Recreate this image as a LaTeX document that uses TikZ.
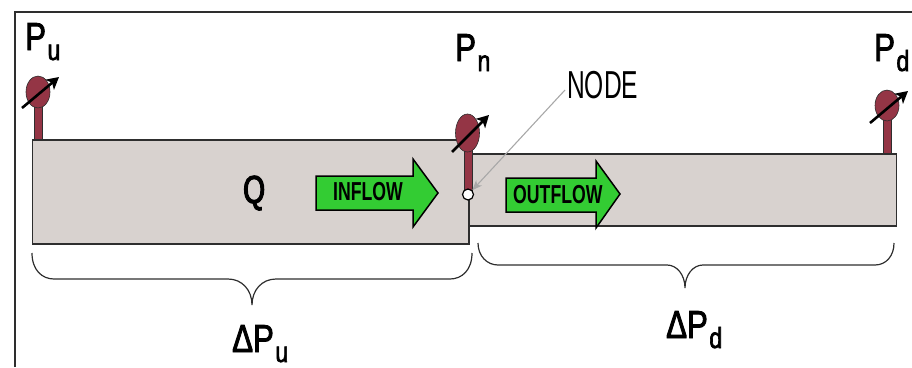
\documentclass[tikz,border=0pt]{standalone}
\usepackage{fontspec}
\setmainfont{Liberation Sans}
\newfontfamily\lblfont[FakeStretch=0.8,FakeBold=2.2]{Liberation Sans}
\newfontfamily\qfont[FakeStretch=0.72,FakeBold=3]{Liberation Sans}
\newfontfamily\nodefont[FakeStretch=0.63]{Liberation Sans}
\newfontfamily\flowfont[FakeStretch=0.68]{Liberation Sans Bold}
\usetikzlibrary{arrows.meta,shapes.geometric}
\definecolor{pipefill}{HTML}{D8D2CF}
\definecolor{pipeline}{HTML}{2E2E2E}
\definecolor{gaugered}{HTML}{943545}
\definecolor{flowgreen}{HTML}{33CC33}
\definecolor{leader}{HTML}{A8A8A8}
\newcommand{\plabel}[2]{{\lblfont\fontsize{39}{39}\selectfont #1\kern1.5pt\raisebox{-10pt}{\fontsize{29}{29}\selectfont #2}}}
\tikzset{
  x=1pt,y=-1pt,
  pipe/.style={draw=pipeline,line width=1.5pt,fill=pipefill},
  stem/.style={draw=pipeline,line width=0.5pt,fill=gaugered},
  dial/.style={draw=pipeline,line width=0.6pt,fill=gaugered,ellipse,minimum width=24pt,inner sep=0pt},
  needle/.style={black,line width=2.6pt,-{Stealth[length=12pt,width=13pt,inset=3pt]}},
  flowarrow/.style={draw=black,line width=1.5pt,fill=flowgreen,line join=miter},
  flowtext/.style={inner sep=0pt,font=\flowfont\fontsize{26}{26}\selectfont,anchor=base west},
  plbl/.style={inner sep=0pt,anchor=base west},
  brace/.style={draw=pipeline,line width=1.2pt},
}
\begin{document}
\begin{tikzpicture}
\useasboundingbox (0,0) rectangle (912,367);
\draw[pipeline,line width=2pt] (14.5,367) -- (14.5,11.5) -- (912,11.5);
% pipes
\node[pipe,minimum width=437pt,minimum height=104pt,inner sep=0pt,anchor=north west] (upipe) at (31.5,139) {};
\node[pipe,minimum width=427pt,minimum height=72pt,inner sep=0pt,anchor=north west] (dpipe) at (468.5,153) {};
\draw[pipeline,line width=1.8pt] (468.5,139) -- (468.5,243);
% flow arrows
\draw[flowarrow] (316,176) -- (413,176) -- (413,159) -- (438,193) -- (413,227) -- (413,210) -- (316,210) -- cycle;
\draw[flowarrow] (506,178) -- (596,178) -- (596,161) -- (620,194) -- (596,228) -- (596,212) -- (506,212) -- cycle;
\node[flowtext] (inflow) at (333,200) {INFLOW};
\node[flowtext] (outflow) at (513,203) {OUTFLOW};
\node[plbl,font=\qfont\fontsize{39}{39}\selectfont] (q) at (243,203) {Q};
% gauges
\draw[stem] (34.5,106) rectangle (42,139);
\node[dial,minimum height=32pt] (gu) at (38,92) {};
\coordinate (gua) at (22,108); \coordinate (gub) at (59,77);
\draw[needle] (gua) -- (gub);
\draw[stem] (464,150) rectangle (472,190);
\node[dial,minimum height=38pt] (gn) at (467.5,133) {};
\coordinate (gna) at (452,152); \coordinate (gnb) at (489,115);
\draw[needle] (gna) -- (gnb);
\draw[stem] (883,119) rectangle (891,153);
\node[dial,minimum height=31pt] (gd) at (887,105.5) {};
\coordinate (gda) at (870,123); \coordinate (gdb) at (908,91);
\draw[needle] (gda) -- (gdb);
% node point and leader
\node[circle,draw=black,line width=1.2pt,fill=white,minimum size=11pt,inner sep=0pt] (pt) at (468,194.5) {};
\node[inner sep=0pt,anchor=base west,font=\nodefont\fontsize{39}{39}\selectfont] (nodelbl) at (567,98) {NODE};
\coordinate (ls) at (565,90);
\draw[leader,line width=1.1pt,-{Stealth[length=10pt,width=8pt,inset=3pt]}] (ls) -- (pt.45);
% labels
\node[plbl] (pu) at (25,50) {\plabel{P}{u}};
\node[plbl] (pn) at (455,61) {\plabel{P}{n}};
\node[plbl] (pd) at (874,61) {\plabel{P}{d}};
\node[plbl] (dpu) at (232,352) {\plabel{ΔP}{u}};
\node[plbl] (dpd) at (666,338) {\plabel{ΔP}{d}};
% braces
\draw[brace] (32,253) .. controls (32,270) and (42,279) .. (54,279) -- (228,279) .. controls (242,279) and (252,290) .. (252,305) .. controls (252,290) and (262,279) .. (276,279) -- (450,279) .. controls (462,279) and (472,270) .. (472,253);
\draw[brace] (478,243) .. controls (478,256) and (487,265) .. (498,265) -- (667,265) .. controls (677,265) and (685,275) .. (685,288) .. controls (685,275) and (693,265) .. (703,265) -- (875,265) .. controls (886,265) and (894,256) .. (894,243);
\end{tikzpicture}
\end{document}
